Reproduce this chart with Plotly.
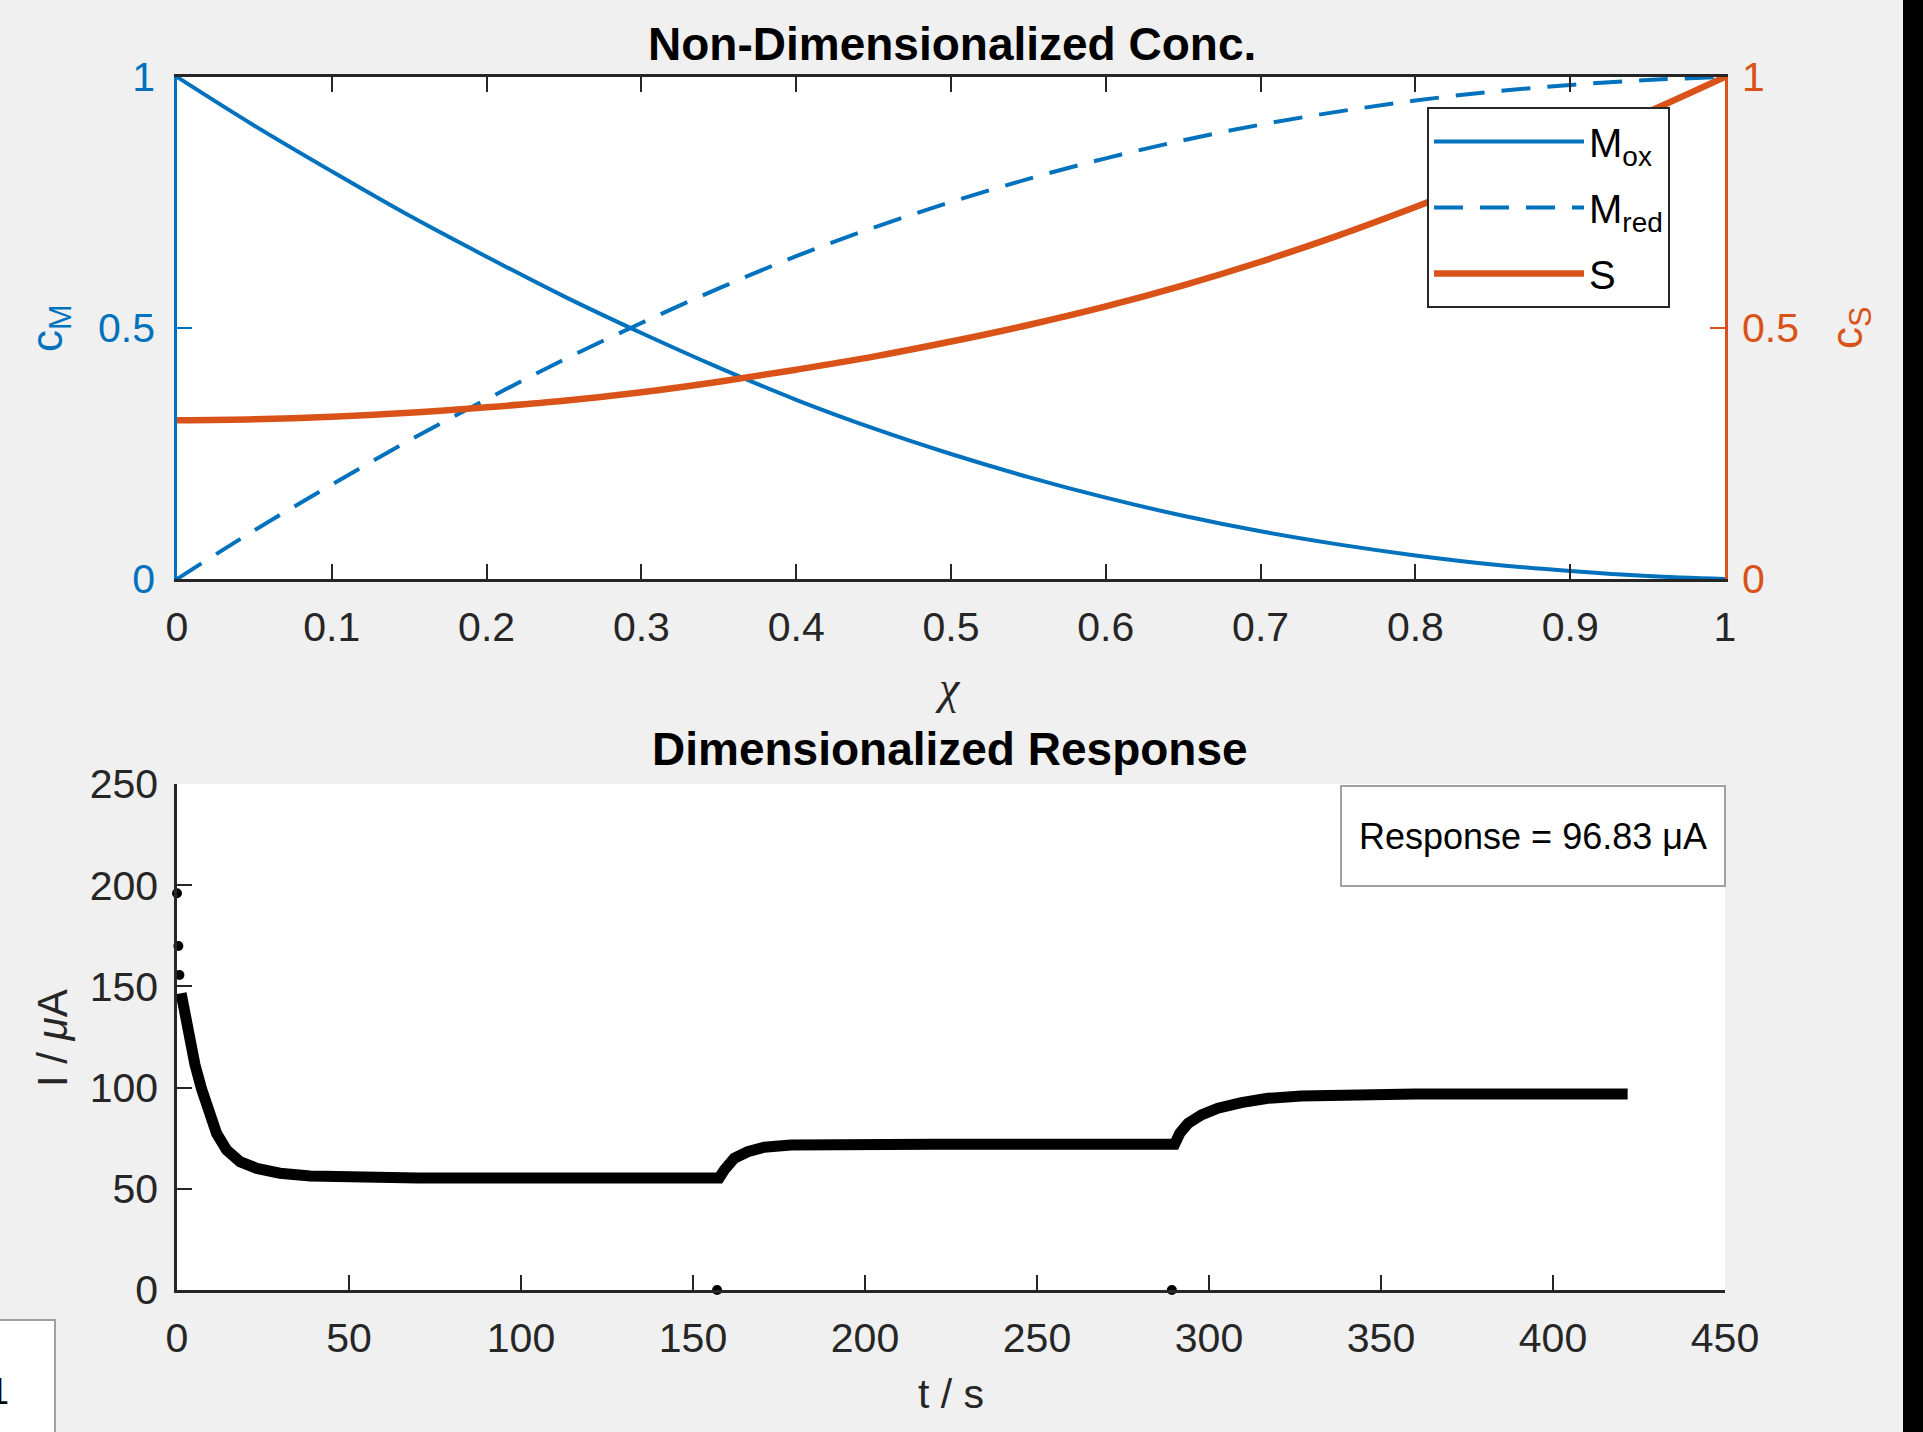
import plotly.graph_objects as go

# ---------------- data ----------------
x_pos = [0.00, 0.05, 0.10, 0.15, 0.20, 0.25, 0.30, 0.35, 0.40, 0.45, 0.50,
         0.55, 0.60, 0.65, 0.70, 0.75, 0.80, 0.85, 0.90, 0.95, 1.00]
m_ox = [1.000, 0.903, 0.812, 0.724, 0.642, 0.563, 0.490, 0.421, 0.357, 0.300, 0.249,
        0.203, 0.162, 0.126, 0.095, 0.069, 0.047, 0.029, 0.016, 0.006, 0.000]
m_red = [0.000, 0.097, 0.188, 0.276, 0.358, 0.437, 0.510, 0.579, 0.643, 0.700, 0.751,
         0.797, 0.838, 0.874, 0.905, 0.931, 0.953, 0.971, 0.984, 0.994, 1.000]
s_conc = [0.316, 0.318, 0.323, 0.331, 0.342, 0.355, 0.372, 0.393, 0.417, 0.443, 0.473,
          0.506, 0.543, 0.585, 0.632, 0.684, 0.741, 0.801, 0.864, 0.930, 1.000]

t_main = [1.2, 1.7, 2.3, 3.3, 5.2, 7.2, 9.1, 11.5, 14.4, 18.3, 23.2, 29.9, 38.7, 51.3,
          70.0, 100.0, 130.0, 157.6, 159.1, 162.0, 165.9, 170.7, 178.5, 193.1, 220.0,
          250.0, 290.0, 291.5, 293.9, 297.8, 302.6, 309.4, 317.1, 326.8, 341.3, 360.0,
          390.0, 421.7]
i_main = [146.6, 141.5, 135.5, 126.0, 111.5, 99.0, 88.9, 77.4, 69.2, 63.4, 60.1, 57.7, 56.3, 55.5,
          55.3, 55.3, 55.3, 55.3, 59.3, 65.1, 68.3, 70.5, 71.6, 72.0, 72.0,
          72.0, 72.0, 77.4, 82.3, 86.5, 89.8, 92.6, 94.7, 95.8, 96.6, 96.8,
          96.8, 96.83]
t_glitch = [0.0, 0.4, 0.7, 157.0, 289.2]
i_glitch = [196.0, 170.0, 155.6, 0.0, 0.0]

x_ticks = [0, 0.1, 0.2, 0.3, 0.4, 0.5, 0.6, 0.7, 0.8, 0.9, 1.0]
x_ticktext = ["0", "0.1", "0.2", "0.3", "0.4", "0.5", "0.6", "0.7", "0.8", "0.9", "1"]
c_ticks = [0, 0.5, 1]
c_ticktext = ["0", "0.5", "1"]
t_ticks = [0, 50, 100, 150, 200, 250, 300, 350, 400, 450]
i_ticks = [0, 50, 100, 150, 200, 250]
response_value = 96.83

# ---------------- styling ----------------
W, H = 1923, 1432
L, R, T, B = 177, 198, 77, 142
BLUE = "#0072BD"
ORANGE = "#D95319"
DARK = "#262626"
FONT = "Liberation Sans, Arial, sans-serif"
SERIF = "Liberation Serif, Times New Roman, serif"
TICK = 41


def px(xp):
    return (xp - L) / (W - L - R)


def py(yp):
    return (H - B - yp) / (H - T - B)


fig = go.Figure()
fig.add_trace(go.Scatter(x=x_pos, y=m_ox, name="M<sub>ox</sub>", mode="lines",
                         legendgroup="a",
                         line=dict(color=BLUE, width=4, shape="spline"),
                         xaxis="x", yaxis="y"))
fig.add_trace(go.Scatter(x=x_pos, y=m_red, name="M<sub>red</sub>", mode="lines",
                         legendgroup="b",
                         line=dict(color=BLUE, width=4, dash="29px,17px", shape="spline"),
                         xaxis="x", yaxis="y"))
fig.add_trace(go.Scatter(x=x_pos, y=s_conc, name="S", mode="lines",
                         legendgroup="c",
                         line=dict(color=ORANGE, width=6.5, shape="spline"),
                         xaxis="x", yaxis="y2"))
fig.add_trace(go.Scatter(x=t_main, y=i_main, mode="lines", showlegend=False,
                         line=dict(color="black", width=11),
                         xaxis="x2", yaxis="y3"))
fig.add_trace(go.Scatter(x=t_glitch, y=i_glitch, mode="markers", showlegend=False,
                         marker=dict(color="black", size=10), cliponaxis=False,
                         xaxis="x2", yaxis="y3"))

common = dict(ticks="inside", ticklen=15, tickwidth=2, showline=True, linewidth=2.5,
              showgrid=False, zeroline=False)

fig.update_layout(
    width=W, height=H, autosize=False,
    margin=dict(l=L, r=R, t=T, b=B, pad=0),
    paper_bgcolor="#F0F0F0", plot_bgcolor="white",
    font=dict(family=FONT, color=DARK),
    xaxis=dict(domain=[0, 1], anchor="y", range=[0, 1], tickvals=x_ticks, ticktext=x_ticktext,
               tickcolor=DARK, linecolor=DARK, mirror="ticks",
               tickfont=dict(size=TICK, color=DARK), ticklabelstandoff=10, **common),
    yaxis=dict(domain=[py(579), 1], anchor="x", range=[0, 1], tickvals=c_ticks,
               ticktext=c_ticktext, tickcolor=BLUE, linecolor=BLUE,
               tickfont=dict(size=TICK, color=BLUE), ticklabelstandoff=11, **common),
    yaxis2=dict(overlaying="y", side="right", anchor="x", range=[0, 1], tickvals=c_ticks,
                ticktext=c_ticktext, tickcolor=ORANGE, linecolor=ORANGE,
                tickfont=dict(size=TICK, color=ORANGE), ticklabelstandoff=6, **common),
    xaxis2=dict(domain=[0, 1], anchor="y3", range=[0, 450], tickvals=t_ticks,
                tickcolor=DARK, linecolor=DARK,
                tickfont=dict(size=TICK, color=DARK), ticklabelstandoff=10, **common),
    yaxis3=dict(domain=[0, py(784)], anchor="x2", range=[0, 250], tickvals=i_ticks,
                tickcolor=DARK, linecolor=DARK,
                tickfont=dict(size=TICK, color=DARK), ticklabelstandoff=8, **common),
    legend=dict(x=px(1427), y=py(107), xanchor="left", yanchor="top",
                bgcolor="white", bordercolor=DARK, borderwidth=2,
                font=dict(size=40, color="black", family=FONT),
                itemwidth=150, tracegroupgap=11, traceorder="grouped"),
    showlegend=True,
)

annotations = [
    dict(text="<b>Non-Dimensionalized Conc.</b>", x=px(952), y=py(44),
         font=dict(size=46, color="black", family=FONT)),
    dict(text="<b>Dimensionalized Response</b>", x=px(950), y=py(749),
         font=dict(size=46, color="black", family=FONT)),
    dict(text="<i>χ</i>", x=px(948), y=py(687),
         font=dict(size=46, color=DARK, family=SERIF)),
    dict(text="t / s", x=px(951), y=py(1394),
         font=dict(size=41, color=DARK, family=FONT)),
    dict(text="c<sub>M</sub>", x=px(50), y=py(328), textangle=-90,
         font=dict(size=44, color=BLUE, family=FONT)),
    dict(text="c<sub>S</sub>", x=px(1850), y=py(328), textangle=-90,
         font=dict(size=44, color=ORANGE, family=FONT)),
    dict(text="I / <i>μ</i>A", x=px(52), y=py(1038), textangle=-90,
         font=dict(size=42, color=DARK, family=FONT)),
    dict(text=f"Response = {response_value:.2f} μA", x=px(1533), y=py(836),
         width=380, height=96, borderpad=1, borderwidth=2, bordercolor="#A0A0A0",
         bgcolor="white", font=dict(size=36, color="black", family=FONT)),
    dict(text="1", x=px(-13), y=py(1391), xanchor="left",
         font=dict(size=36, color="black", family=FONT)),
]
for a in annotations:
    a.setdefault("xref", "paper")
    a.setdefault("yref", "paper")
    a.setdefault("showarrow", False)
    a.setdefault("xanchor", "center")
    a.setdefault("yanchor", "middle")
    fig.add_annotation(**a)

fig.add_shape(type="rect", xref="paper", yref="paper",
              x0=px(-10), x1=px(55), y0=py(1445), y1=py(1320),
              fillcolor="white", line=dict(color="#A0A0A0", width=2), layer="below")
fig.add_shape(type="rect", xref="paper", yref="paper",
              x0=px(1903), x1=px(1923), y0=py(1432), y1=py(0),
              fillcolor="black", line=dict(width=0), layer="above")

fig.write_html("out.html", config={"displayModeBar": False},
               post_script="document.body.style.margin='0';document.body.style.overflow='hidden';")
